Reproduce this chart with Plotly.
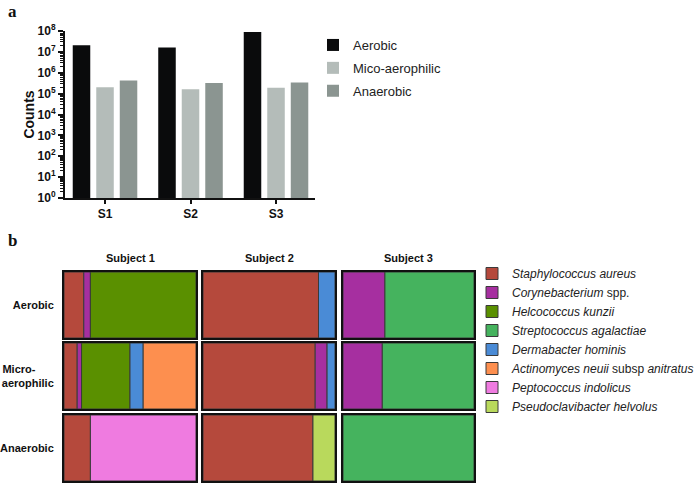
import plotly.graph_objects as go

# panel a: culture counts per sample
samples = ["S1", "S2", "S3"]
aerobic_counts = [2.1e7, 1.6e7, 9.0e7]
micro_counts = [2.0e5, 1.6e5, 1.9e5]
anaerobic_counts = [4.2e5, 3.2e5, 3.4e5]
decades = list(range(9))

# panel b: % composition, rows = conditions, cols = subjects
subjects = ["Subject 1", "Subject 2", "Subject 3"]
conditions = ["Aerobic", "Micro-" + "\u00a0" * 6 + "<br>aerophilic", "Anaerobic"]
species = [
    "<i>Staphylococcus aureus</i>",
    "<i>Corynebacterium</i> spp.",
    "<i>Helcococcus kunzii</i>",
    "<i>Streptococcus agalactiae</i>",
    "<i>Dermabacter hominis</i>",
    "<i>Actinomyces neuii</i> subsp <i>anitratus</i>",
    "<i>Peptococcus indolicus</i>",
    "<i>Pseudoclavibacter helvolus</i>",
]
s_aureus = [[15, 87.5, 0], [10, 85, 0], [20, 83.3, 0]]
coryne = [[5, 0, 32], [3.3, 9, 30], [0, 0, 0]]
helco = [[80, 0, 0], [36.7, 0, 0], [0, 0, 0]]
strep = [[0, 0, 68], [0, 0, 70], [0, 0, 100]]
derma = [[0, 12.5, 0], [10, 6, 0], [0, 0, 0]]
actino = [[0, 0, 0], [40, 0, 0], [0, 0, 0]]
pepto = [[0, 0, 0], [0, 0, 0], [80, 0, 0]]
pseudo = [[0, 0, 0], [0, 0, 0], [0, 16.7, 0]]
shares = [s_aureus, coryne, helco, strep, derma, actino, pepto, pseudo]
colors = ["#b5493c", "#a62fa0", "#5a9000", "#45b35e",
          "#4a8bd6", "#fd8f4f", "#ef7be0", "#b9d95c"]

FONT = "Liberation Sans, Arial, sans-serif"
W, H = 700, 484

fig = go.Figure()

for name, vals, col in [("Aerobic", aerobic_counts, "#0a0b0c"),
                        ("Mico-aerophilic", micro_counts, "#b4bcb9"),
                        ("Anaerobic", anaerobic_counts, "#8b9591")]:
    fig.add_trace(go.Bar(x=samples, y=vals, name=name, marker_color=col,
                         marker_line_width=0, legend="legend", legendgroup=name,
                         xaxis="x", yaxis="y"))

# cell geometry of panel b (pixels)
col_px = [(64, 196), (203, 335), (343, 474)]
row_px = [(272, 338), (343, 409), (415, 481)]

layout = {}
bases = [[0.0] * 3 for _ in range(3)]
shown = set()
for si, sp in enumerate(species):
    for r in range(3):
        for c in range(3):
            v = shares[si][r][c]
            if v <= 0:
                continue
            k = 2 + r * 3 + c
            fig.add_trace(go.Bar(
                y=[conditions[r]], x=[v], base=[bases[r][c]], orientation="h",
                name=sp, marker_color=colors[si],
                marker_line=dict(color="#3a3a3a", width=1),
                width=1, offset=-0.5, offsetgroup="b",
                legend="legend2", showlegend=si not in shown,
                xaxis=f"x{k}", yaxis=f"y{k}"))
            shown.add(si)
            bases[r][c] += v

for r in range(3):
    for c in range(3):
        k = 2 + r * 3 + c
        x0, x1 = col_px[c]
        y0, y1 = row_px[r]
        layout[f"xaxis{k}"] = dict(domain=[x0 / W, x1 / W], anchor=f"y{k}",
                                   range=[0, 100], showticklabels=False,
                                   showgrid=False, zeroline=False, showline=True,
                                   mirror=True, linecolor="#111", linewidth=2,
                                   fixedrange=True, automargin=False)
        layout[f"yaxis{k}"] = dict(domain=[1 - y1 / H, 1 - y0 / H], anchor=f"x{k}",
                                   range=[-0.5, 0.5], showticklabels=(c == 0),
                                   showgrid=False, zeroline=False, showline=True,
                                   mirror=True, linecolor="#111", linewidth=2,
                                   ticks="", ticklabelstandoff=6, automargin=False,
                                   tickfont=dict(family=FONT, size=11, color="#111",
                                                 weight="bold"))

fig.update_layout(
    width=W, height=H,
    margin=dict(l=0, r=0, t=0, b=0, autoexpand=False),
    paper_bgcolor="white", plot_bgcolor="white",
    barmode="group", bargap=0.175, bargroupgap=0.255,
    font=dict(family=FONT, color="#222"),
    xaxis=dict(domain=[65 / W, 315 / W], anchor="y", range=[-0.468, 2.456],
               showline=True, linecolor="#111", linewidth=2, automargin=False,
               ticks="outside", ticklen=4, tickwidth=1.5, tickcolor="#111",
               tickfont=dict(family=FONT, size=12, color="#111", weight="bold"),
               showgrid=False, zeroline=False),
    yaxis=dict(domain=[1 - 198 / H, 1 - 31 / H], anchor="x", type="log",
               range=[0, 8], showline=True, linecolor="#111", linewidth=2,
               automargin=False,
               tickvals=[10 ** d for d in decades],
               ticktext=[f"10<sup>{d}</sup>" for d in decades],
               ticks="outside", ticklen=5, tickwidth=1.5, tickcolor="#111",
               minor=dict(tickvals=[m * 10 ** d for d in decades[:-1] for m in range(2, 10)],
                          ticks="outside", ticklen=3, tickwidth=1, tickcolor="#111"),
               tickfont=dict(family=FONT, size=12, color="#111", weight="bold"),
               title=dict(text="Counts", standoff=0,
                          font=dict(family=FONT, size=14, color="#111", weight="bold")),
               showgrid=False, zeroline=False),
    legend=dict(x=313 / W, y=1 - 30 / H, xanchor="left", yanchor="top",
                font=dict(family=FONT, size=13, color="#222"),
                tracegroupgap=3, bgcolor="rgba(0,0,0,0)"),
    legend2=dict(x=472 / W, y=1 - 259 / H, xanchor="left", yanchor="top",
                 traceorder="normal",
                 font=dict(family=FONT, size=12, color="#222"),
                 bgcolor="rgba(0,0,0,0)"),
    showlegend=True,
    **layout,
)

annotations = [
    dict(text="a", x=6 / W, y=1 - 0 / H, font=dict(family="Liberation Serif, serif",
                                                   size=17, color="#111", weight="bold")),
    dict(text="b", x=6 / W, y=1 - 229 / H, font=dict(family="Liberation Serif, serif",
                                                     size=17, color="#111", weight="bold")),
]
for c, subj in enumerate(subjects):
    x0, x1 = col_px[c]
    annotations.append(dict(text=subj, x=(x0 + x1) / 2 / W, y=1 - 250 / H,
                            xanchor="center",
                            font=dict(family=FONT, size=11, color="#111", weight="bold")))
for a in annotations:
    a.setdefault("xanchor", "left")
    fig.add_annotation(xref="paper", yref="paper", yanchor="top", showarrow=False, **a)

# the page's default 8px body margin would shift the 700x484 figure
fig.write_html("out.html", config={"displayModeBar": False},
               post_script="document.body.style.margin='0';")
